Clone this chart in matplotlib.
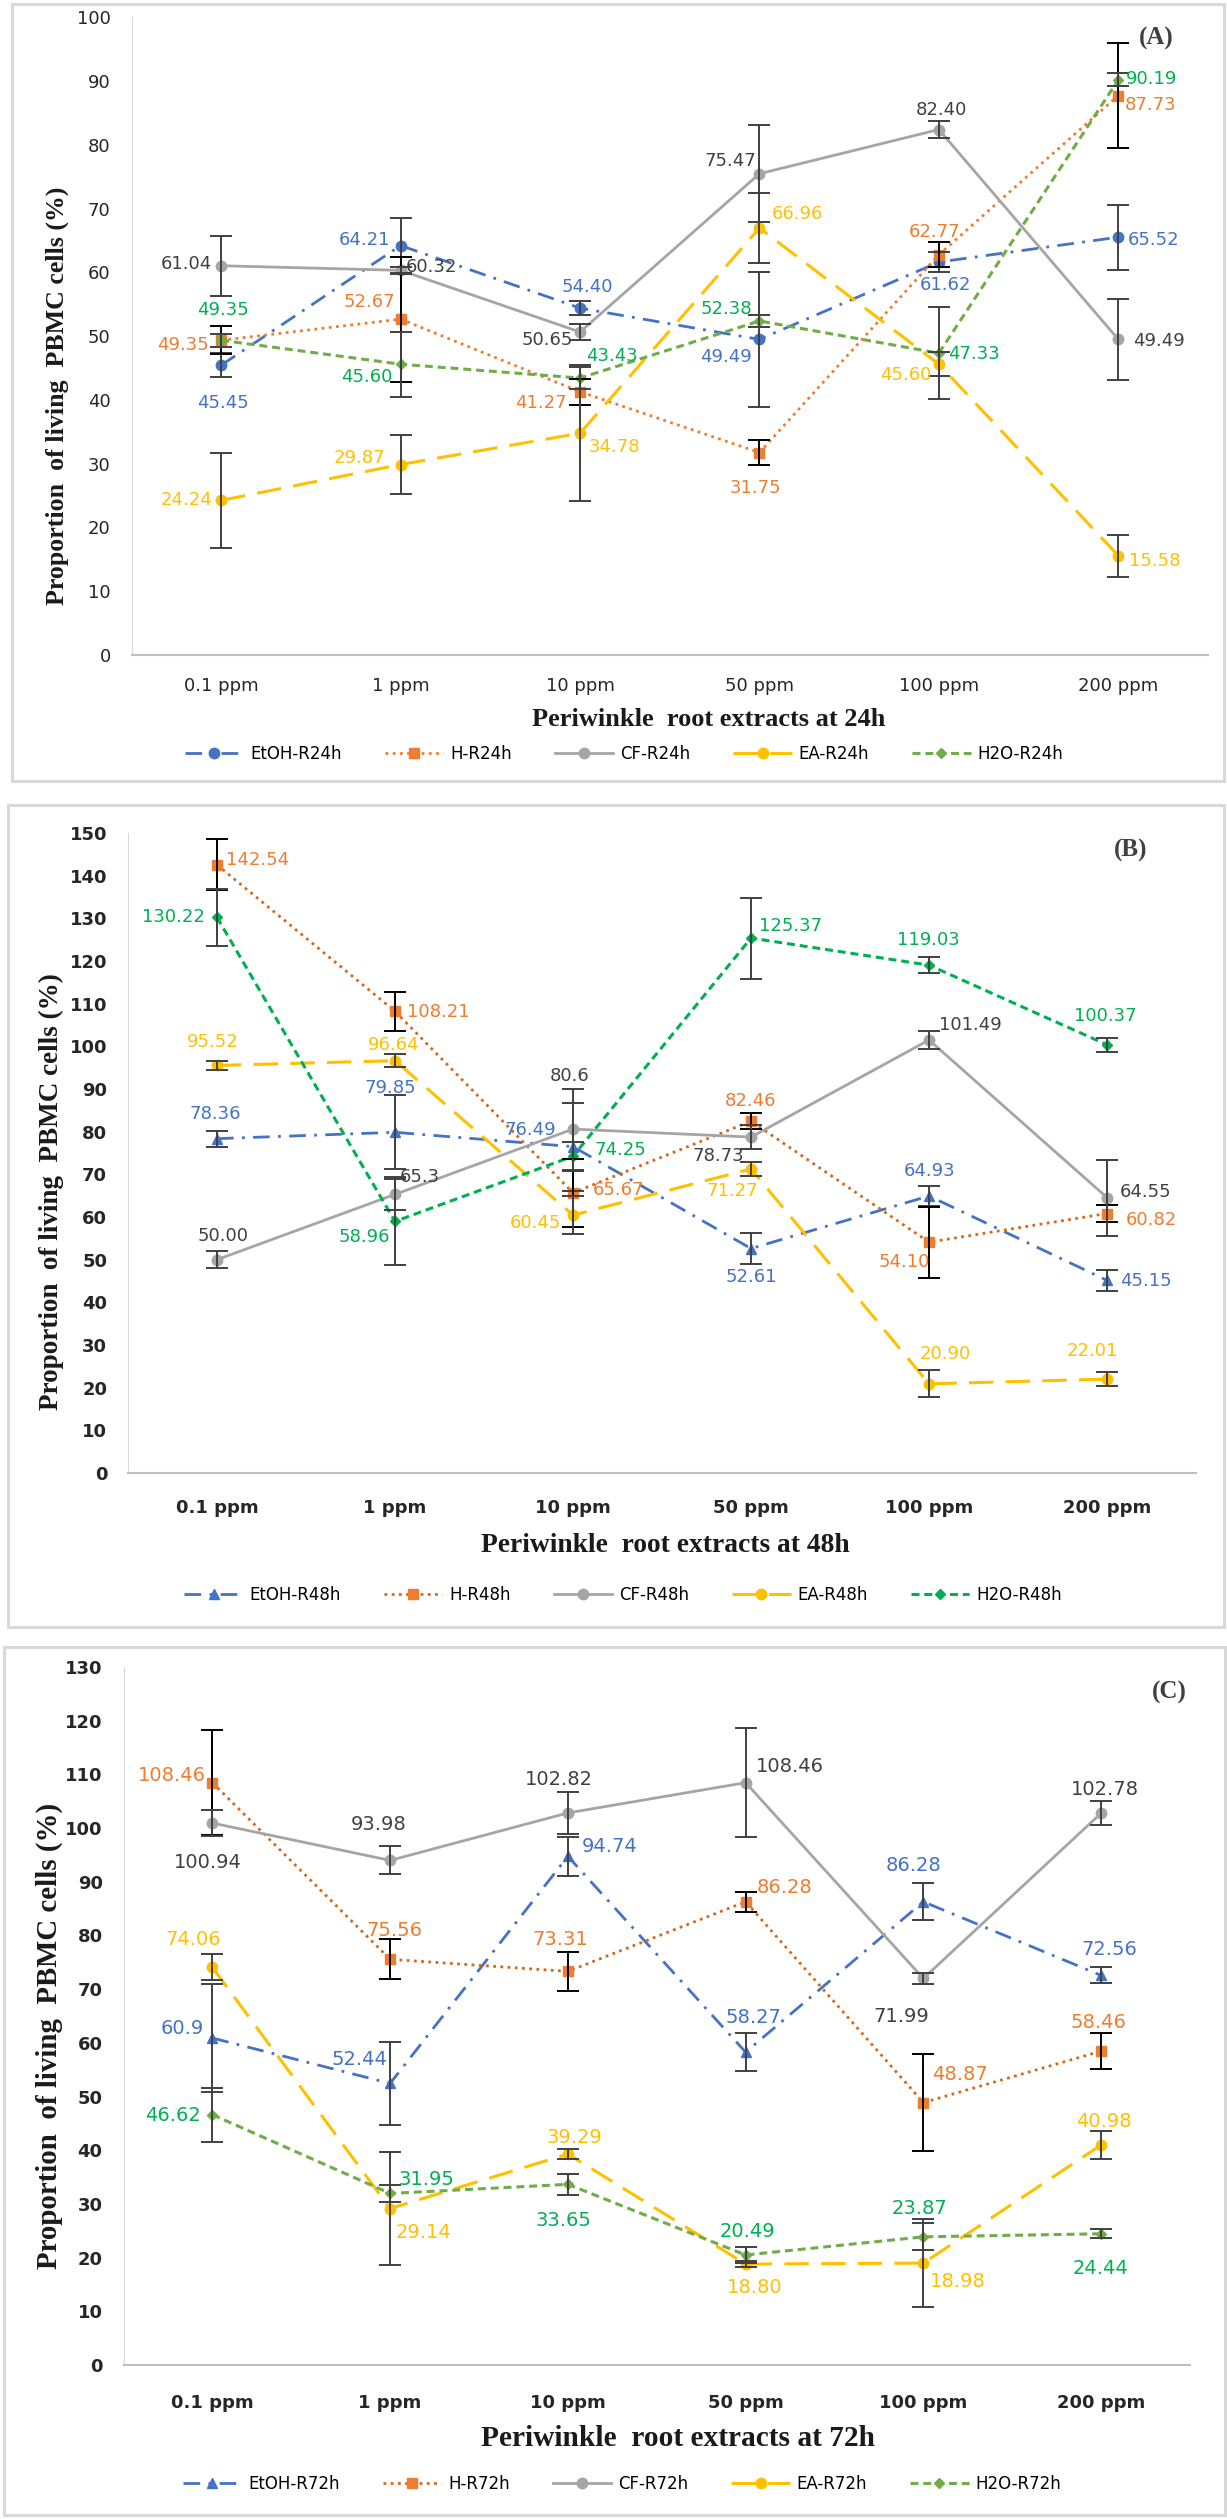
import matplotlib.pyplot as plt
from matplotlib.patches import Rectangle

W, H = 1227, 2519

doses = ['0.1 ppm', '1 ppm', '10 ppm', '50 ppm', '100 ppm', '200 ppm']

# ---- 24 h ----
etoh_24 = [45.45, 64.21, 54.40, 49.49, 61.62, 65.52]
h_24 = [49.35, 52.67, 41.27, 31.75, 62.77, 87.73]
cf_24 = [61.04, 60.32, 50.65, 75.47, 82.40, 49.49]
ea_24 = [24.24, 29.87, 34.78, 66.96, 45.60, 15.58]
h2o_24 = [49.35, 45.60, 43.43, 52.38, 47.33, 90.19]
etoh_24_err = [1.9, 4.3, 1.1, 10.6, 1.6, 5.1]
h_24_err = [2.2, 9.8, 2.0, 2.0, 2.0, 8.2]
cf_24_err = [4.7, 0.6, 1.2, 7.6, 1.4, 6.3]
ea_24_err = [7.4, 4.6, 10.7, 5.5, 1.9, 3.3]
h2o_24_err = [1.0, 5.1, 1.7, 1.0, 7.2, 1.0]

# ---- 48 h ----
etoh_48 = [78.36, 79.85, 76.49, 52.61, 64.93, 45.15]
h_48 = [142.54, 108.21, 65.67, 82.46, 54.10, 60.82]
cf_48 = [50.00, 65.3, 80.6, 78.73, 101.49, 64.55]
ea_48 = [95.52, 96.64, 60.45, 71.27, 20.90, 22.01]
h2o_48 = [130.22, 58.96, 74.25, 125.37, 119.03, 100.37]
etoh_48_err = [1.9, 8.7, 10.3, 3.7, 2.4, 2.4]
h_48_err = [6.0, 4.6, 8.0, 1.9, 8.3, 2.0]
cf_48_err = [2.0, 3.7, 9.5, 2.8, 2.0, 8.9]
ea_48_err = [1.0, 1.5, 4.5, 1.6, 3.2, 1.6]
h2o_48_err = [6.7, 10.3, 3.4, 9.5, 1.8, 1.6]

# ---- 72 h ----
etoh_72 = [60.9, 52.44, 94.74, 58.27, 86.28, 72.56]
h_72 = [108.46, 75.56, 73.31, 86.28, 48.87, 58.46]
cf_72 = [100.94, 93.98, 102.82, 108.46, 71.99, 102.78]
ea_72 = [74.06, 29.14, 39.29, 18.80, 18.98, 40.98]
h2o_72 = [46.62, 31.95, 33.65, 20.49, 23.87, 24.44]
etoh_72_err = [10.0, 7.8, 3.6, 3.6, 3.4, 1.5]
h_72_err = [9.8, 3.7, 3.6, 1.9, 9.0, 3.4]
cf_72_err = [2.4, 2.6, 3.9, 10.1, 1.0, 2.2]
ea_72_err = [2.4, 10.5, 1.0, 0.6, 8.2, 2.6]
h2o_72_err = [5.0, 1.5, 1.9, 1.5, 2.5, 0.8]

# data-label offsets in pixels (dx, dy up) for each point
off_24 = {
    'EtOH': [(2, -38), (-36, 6), (7, 21), (-34, -18), (7, -23), (35, -3)],
    'H': [(-38, -5), (-31, 17), (-39, -11), (-4, -35), (-4, 23), (32, -9)],
    'CF': [(-35, 2), (31, 3), (-33, -8), (-29, 13), (3, 20), (41, -2)],
    'EA': [(-35, 0), (-41, 7), (34, -14), (38, 14), (-33, -11), (36, -5)],
    'H2O': [(2, 30), (-34, -13), (32, 22), (-33, 12), (35, -1), (33, 1)],
}
off_48 = {
    'EtOH': [(-2, 25), (-5, 44), (-43, 17), (0, -28), (1, 25), (39, -1)],
    'H': [(41, 5), (43, -1), (45, 3), (-1, 20), (-25, -20), (44, -6)],
    'CF': [(6, 24), (25, 17), (-3, 53), (-33, -19), (41, 15), (39, 6)],
    'EA': [(-4, 23), (-1, 16), (-38, -8), (-19, -22), (16, 30), (-15, 28)],
    'H2O': [(-44, 0), (-31, -16), (47, 6), (40, 12), (-1, 25), (-2, 29)],
}
off_72 = {
    'EtOH': [(-30, 10), (-31, 24), (42, 10), (8, 35), (-10, 36), (8, 26)],
    'H': [(-41, 7), (4, 29), (-8, 32), (39, 14), (37, 28), (-3, 29)],
    'CF': [(-5, -39), (-11, 36), (-9, 33), (44, 16), (-22, -38), (4, 24)],
    'EA': [(-19, 28), (33, -24), (7, 17), (9, -23), (34, -18), (3, 23)],
    'H2O': [(-39, -1), (36, 14), (-4, -36), (2, 23), (-4, 28), (-1, -35)],
}

BLUE, ORANGE, GRAY, GOLD = '#4472C4', '#ED7D31', '#A5A5A5', '#FFC000'
GREEN_TXT = '#00B050'


def fx(x):
    return x / W


def fy(y):
    return 1 - y / H


def fmt(v):
    if v in (65.3, 80.6, 60.9):
        return f'{v:.1f}'
    return f'{v:.2f}'


fig = plt.figure(figsize=(W / 100, H / 100), dpi=100)

# panel frames
for x0, y0, x1, y1 in [(12, 4, 1224, 781), (8, 805, 1224, 1627), (4, 1647, 1225, 2515)]:
    fig.add_artist(Rectangle((fx(x0), fy(y1)), (x1 - x0) / W, (y1 - y0) / H,
                             transform=fig.transFigure, fill=False,
                             edgecolor='#D9D9D9', linewidth=2.2))

to_fit = []  # (text artist, target length in px)


def panel(box, ymax, hours, data, errs, offs, etoh_marker, h2o_line, tag, tag_xy,
          xlab_xy, xlab_len, ylab_xy, ylab_len, leg_xy, bold_ticks, lab_size, xpad):
    left, top, right, bottom = box
    ax = fig.add_axes([fx(left), fy(bottom), (right - left) / W, (bottom - top) / H])
    x = list(range(len(doses)))
    styles = {
        'EtOH': dict(color=BLUE, ls=(0, (6, 3, 1, 3)), lw=2.0, marker=etoh_marker, ms=7.5, txt=BLUE, ecol='#404040'),
        'H': dict(color=ORANGE if hours == '24h' else '#D2691E', ls=(0, (1, 1.6)), lw=2.0, marker='s', ms=7.5,
                  mfc=ORANGE, txt=ORANGE, ecol='black'),
        'CF': dict(color=GRAY, ls='-', lw=2.0, marker='o', ms=7.5, txt='#404040', ecol='#404040'),
        'EA': dict(color=GOLD, ls=(0, (8, 4)), lw=2.2, marker='o', ms=7.5, txt=GOLD, ecol='#404040'),
        'H2O': dict(color=h2o_line, ls=(0, (2.6, 1.6)), lw=2.2, marker='D', ms=5, txt=GREEN_TXT, ecol='#404040'),
    }
    handles = []
    for name in ['EtOH', 'H', 'CF', 'EA', 'H2O']:
        st = styles[name]
        ax.errorbar(x, data[name], yerr=errs[name], fmt='none', ecolor=st['ecol'],
                    elinewidth=1.4, capsize=8, capthick=1.4, zorder=4)
        ln, = ax.plot(x, data[name], color=st['color'], ls=st['ls'], lw=st['lw'],
                      marker=st['marker'], ms=st['ms'],
                      mfc=st.get('mfc', st['color']), mec=st.get('mfc', st['color']),
                      label=f'{name}-R{hours}', zorder=3)
        handles.append(ln)
        for i, v in enumerate(data[name]):
            dx, dy = offs[name][i]
            ax.annotate(fmt(v), (i, v), xytext=(dx, dy), textcoords='offset pixels',
                        ha='center', va='center', color=st['txt'], fontsize=lab_size,
                        zorder=6)
    ax.set_xlim(-0.5, 5.5)
    ax.set_ylim(0, ymax)
    ax.set_yticks(range(0, ymax + 1, 10))
    ax.set_xticks(x)
    wt = 'bold' if bold_ticks else 'normal'
    ax.set_xticklabels(doses, fontsize=13, fontweight=wt)
    for t in ax.get_yticklabels():
        t.set_fontsize(13)
        t.set_fontweight(wt)
    ax.tick_params(axis='both', length=0, colors='#262626')
    ax.tick_params(axis='y', pad=15)
    ax.tick_params(axis='x', pad=xpad)
    for s in ['top', 'right']:
        ax.spines[s].set_visible(False)
    ax.spines['left'].set_color('#D9D9D9')
    ax.spines['bottom'].set_color('#BFBFBF')
    ax.spines['bottom'].set_linewidth(1.5)

    xl = fig.text(fx(xlab_xy[0]), fy(xlab_xy[1]), f'Periwinkle  root extracts at {hours}',
                  ha='center', va='center', fontsize=18, fontweight='bold',
                  family='Liberation Serif', color='#1a1a1a')
    yl = fig.text(fx(ylab_xy[0]), fy(ylab_xy[1]), 'Proportion  of living  PBMC cells (%)',
                  ha='center', va='center', rotation=90, fontsize=18, fontweight='bold',
                  family='Liberation Serif', color='#1a1a1a')
    to_fit.append((xl, xlab_len))
    to_fit.append((yl, ylab_len))
    fig.text(fx(tag_xy[0]), fy(tag_xy[1]), tag, ha='center', va='center', fontsize=18,
             fontweight='bold', family='Liberation Serif', color='#404040')
    fig.legend(handles=handles, loc='center', bbox_to_anchor=(fx(leg_xy[0]), fy(leg_xy[1])),
               ncol=5, frameon=False, fontsize=12, handlelength=3.5, columnspacing=2.6,
               handletextpad=0.4)
    return ax


panel((131.5, 17.3, 1208, 655), 100, '24h',
      {'EtOH': etoh_24, 'H': h_24, 'CF': cf_24, 'EA': ea_24, 'H2O': h2o_24},
      {'EtOH': etoh_24_err, 'H': h_24_err, 'CF': cf_24_err, 'EA': ea_24_err, 'H2O': h2o_24_err},
      off_24, 'o', '#70AD47', '(A)', (1156, 38), (709, 719), 353, (57, 396), 418, (624, 754),
      False, 13, 16)

panel((128, 833, 1196, 1473), 150, '48h',
      {'EtOH': etoh_48, 'H': h_48, 'CF': cf_48, 'EA': ea_48, 'H2O': h2o_48},
      {'EtOH': etoh_48_err, 'H': h_48_err, 'CF': cf_48_err, 'EA': ea_48_err, 'H2O': h2o_48_err},
      off_48, '^', '#00B050', '(B)', (1131, 850), (665, 1545), 369, (51, 1192), 438, (623, 1595),
      True, 13, 19)

panel((123.5, 1667, 1190, 2365), 130, '72h',
      {'EtOH': etoh_72, 'H': h_72, 'CF': cf_72, 'EA': ea_72, 'H2O': h2o_72},
      {'EtOH': etoh_72_err, 'H': h_72_err, 'CF': cf_72_err, 'EA': ea_72_err, 'H2O': h2o_72_err},
      off_72, '^', '#70AD47', '(C)', (1169, 1692), (678, 2439), 394, (49, 2036), 466, (622, 2484),
      True, 14, 21)

# scale axis titles to the measured lengths in the original
renderer = fig.canvas.get_renderer()
for t, target in to_fit:
    bb = t.get_window_extent(renderer)
    t.set_fontsize(t.get_fontsize() * target / max(bb.width, bb.height))

fig.savefig('out.png', dpi=100)
